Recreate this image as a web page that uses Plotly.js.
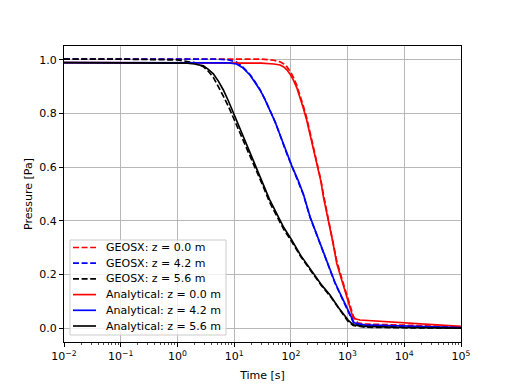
<!DOCTYPE html>
<html>
<head>
<meta charset="utf-8">
<script src="https://cdn.plot.ly/plotly-3.0.1.min.js"></script>
<style>html,body{margin:0;padding:0;background:#fff;}#chart{width:512px;height:384px;}</style>
</head>
<body>
<div id="chart"></div>
<script>
// GEOSX (dashed)
const geosxRedT = [0.01, 0.1, 1, 10, 30, 50, 64.5, 75, 85, 97, 111, 127, 145, 165, 190, 220, 250, 305, 340, 374, 420, 460, 550, 645, 800, 968, 1100, 1260, 1500, 2000, 10000, 100000];
const geosxRedP = [1.003, 1.003, 1.003, 1.003, 1.003, 0.999, 0.993, 0.985, 0.975, 0.958, 0.935, 0.905, 0.87, 0.83, 0.785, 0.728, 0.67, 0.595, 0.55, 0.5, 0.448, 0.41, 0.328, 0.25, 0.182, 0.125, 0.085, 0.045, 0.02, 0.015, 0.011, 0.004];
const geosxBlueT = [0.01, 0.1, 1, 5, 8, 11, 14, 19, 23, 28.6, 35, 43, 53, 64.5, 79, 104, 135, 166, 218, 270, 327, 400, 490, 600, 738, 900, 1070, 1300, 2000, 10000, 100000];
const geosxBlueP = [1.003, 1.003, 1.003, 1.003, 1.0, 0.992, 0.975, 0.946, 0.921, 0.889, 0.853, 0.813, 0.768, 0.72, 0.667, 0.604, 0.548, 0.498, 0.413, 0.361, 0.314, 0.264, 0.214, 0.168, 0.127, 0.088, 0.05, 0.015, 0.008, 0.004, 0.001];
const geosxBlackT = [0.01, 0.1, 1, 1.5, 2, 2.87, 3.5, 4.3, 5.3, 6.45, 8, 9.7, 12, 14.5, 18, 21.8, 27, 32.7, 42, 56, 75, 104, 150, 250, 350, 490, 700, 1020, 1260, 2000, 10000, 100000];
const geosxBlackP = [1.003, 1.003, 1.0, 0.995, 0.99, 0.975, 0.958, 0.935, 0.9, 0.865, 0.825, 0.785, 0.74, 0.697, 0.652, 0.612, 0.568, 0.527, 0.47, 0.418, 0.368, 0.322, 0.266, 0.2, 0.157, 0.12, 0.072, 0.025, 0.01, 0.003, 0.001, 0.0];

// Analytical (solid)
const anaRedT = [0.01, 0.1, 1, 10, 30, 50, 64.5, 75, 85, 97, 111, 127, 145, 165, 190, 220, 250, 305, 340, 374, 420, 460, 550, 645, 800, 968, 1100, 1260, 1650, 10000, 100000];
const anaRedP = [0.99, 0.99, 0.99, 0.99, 0.988, 0.985, 0.981, 0.974, 0.963, 0.947, 0.925, 0.897, 0.863, 0.822, 0.776, 0.72, 0.664, 0.59, 0.545, 0.49, 0.44, 0.403, 0.32, 0.241, 0.175, 0.117, 0.078, 0.036, 0.03, 0.02, 0.006];
const anaBlueT = [0.01, 0.1, 1, 5, 8, 11, 14, 19, 23, 28.6, 35, 43, 53, 64.5, 79, 104, 135, 166, 218, 270, 327, 400, 490, 600, 738, 900, 1070, 1300, 2000, 10000, 100000];
const anaBlueP = [0.99, 0.99, 0.99, 0.99, 0.989, 0.985, 0.972, 0.944, 0.92, 0.888, 0.852, 0.813, 0.768, 0.72, 0.668, 0.605, 0.55, 0.5, 0.415, 0.363, 0.316, 0.266, 0.216, 0.17, 0.129, 0.09, 0.055, 0.02, 0.012, 0.007, 0.002];
const anaBlackT = [0.01, 0.1, 1, 1.5, 2, 2.87, 3.5, 4.3, 5.3, 6.45, 8, 9.7, 12, 14.5, 18, 21.8, 27, 32.7, 42, 56, 75, 104, 150, 250, 350, 490, 700, 1020, 1260, 2000, 10000, 100000];
const anaBlackP = [0.99, 0.99, 0.99, 0.988, 0.985, 0.978, 0.965, 0.948, 0.92, 0.888, 0.845, 0.803, 0.757, 0.714, 0.668, 0.627, 0.582, 0.54, 0.48, 0.428, 0.375, 0.328, 0.27, 0.204, 0.16, 0.123, 0.075, 0.03, 0.012, 0.006, 0.002, 0.0];

const seriesNames = ['GEOSX: z = 0.0 m', 'GEOSX: z = 4.2 m', 'GEOSX: z = 5.6 m',
  'Analytical: z = 0.0 m', 'Analytical: z = 4.2 m', 'Analytical: z = 5.6 m'];
const xTickVals = [0.01, 0.1, 1, 10, 100, 1000, 10000, 100000];
const xTickText = ['10<sup>−2</sup>', '10<sup>−1</sup>', '10<sup>0</sup>', '10<sup>1</sup>', '10<sup>2</sup>', '10<sup>3</sup>', '10<sup>4</sup>', '10<sup>5</sup>'];
const yTickVals = [0.0, 0.2, 0.4, 0.6, 0.8, 1.0];

const lw = 1.67;
const dash = '6px,2.6px';
const styles = [
  {color: '#ff0000', dash: dash}, {color: '#0000ff', dash: dash}, {color: '#000000', dash: dash},
  {color: '#ff0000', dash: 'solid'}, {color: '#0000ff', dash: 'solid'}, {color: '#000000', dash: 'solid'}
];
const xs = [geosxRedT, geosxBlueT, geosxBlackT, anaRedT, anaBlueT, anaBlackT];
const ys = [geosxRedP, geosxBlueP, geosxBlackP, anaRedP, anaBlueP, anaBlackP];
const data = xs.map((x, i) => ({x: x, y: ys[i], name: seriesNames[i], type: 'scatter', mode: 'lines',
  line: {color: styles[i].color, width: lw, dash: styles[i].dash}, showlegend: false}));

const font = {family: 'DejaVu Sans', size: 11, color: '#000'};

// Legend box drawn in paper coordinates (matplotlib-style compact legend)
const W = 512, H = 384, mL = 64, mR = 51, mT = 46, mB = 42;
const pw = W - mL - mR, ph = H - mT - mB;
const px = v => (v - mL) / pw;
const py = v => (H - mB - v) / ph;
const shapes = [{type: 'rect', xref: 'paper', yref: 'paper', x0: px(70), x1: px(226), y0: py(335), y1: py(240),
  line: {color: '#cccccc', width: 1}, fillcolor: 'rgba(255,255,255,0.8)', layer: 'above'}];
const annotations = [];
seriesNames.forEach((nm, i) => {
  const yc = 247.5 + i * 15.7;
  shapes.push({type: 'line', xref: 'paper', yref: 'paper', x0: px(73), x1: px(96), y0: py(yc), y1: py(yc),
    line: {color: styles[i].color, width: lw, dash: styles[i].dash}, layer: 'above'});
  annotations.push({xref: 'paper', yref: 'paper', x: px(104), y: py(yc), xanchor: 'left', yanchor: 'middle',
    text: nm, showarrow: false, font: font});
});

const layout = {
  width: W, height: H,
  margin: {l: mL, r: mR, t: mT, b: mB, pad: 0},
  paper_bgcolor: '#fff', plot_bgcolor: '#fff',
  font: font,
  showlegend: false,
  shapes: shapes,
  annotations: annotations,
  xaxis: {type: 'log', range: [-2, 5], tickmode: 'array', tickvals: xTickVals, ticktext: xTickText,
    showline: true, linecolor: '#000', linewidth: 1, mirror: true,
    ticks: 'outside', ticklen: 4, tickcolor: '#000', tickwidth: 1,
    showgrid: true, gridcolor: '#b0b0b0', gridwidth: 0.9, zeroline: false,
    minor: {ticks: 'outside', ticklen: 2, tickcolor: '#000', tickwidth: 0.7, dtick: 'D1', showgrid: false},
    title: {text: 'Time [s]', font: font, standoff: 9}},
  yaxis: {range: [-0.052, 1.052], tickmode: 'array', tickvals: yTickVals, tickformat: '.1f',
    showline: true, linecolor: '#000', linewidth: 1, mirror: true,
    ticks: 'outside', ticklen: 4, tickcolor: '#000', tickwidth: 1,
    showgrid: true, gridcolor: '#b0b0b0', gridwidth: 0.9, zeroline: false,
    title: {text: 'Pressure [Pa]', font: font, standoff: 4}}
};
Plotly.newPlot('chart', data, layout, {staticPlot: true, displayModeBar: false});
</script>
</body>
</html>
